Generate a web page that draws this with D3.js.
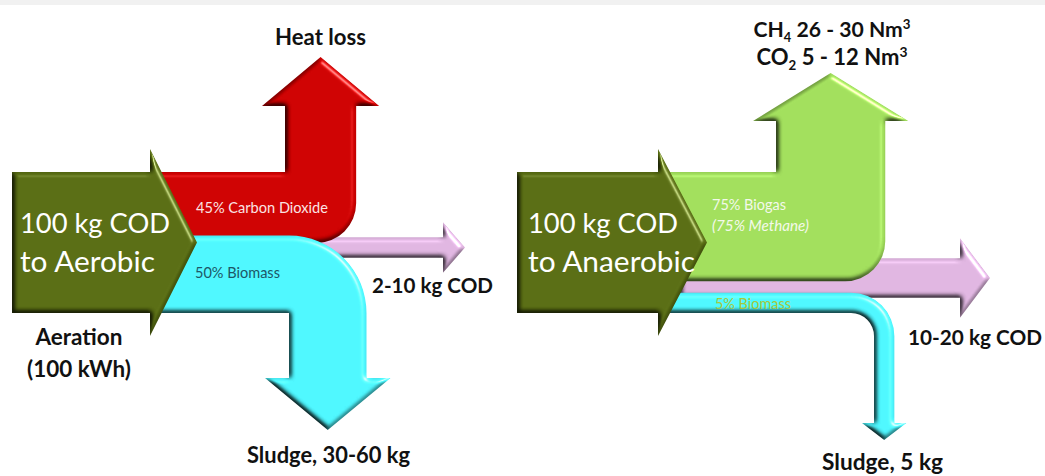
<!DOCTYPE html>
<html>
<head>
<meta charset="utf-8">
<script src="https://cdnjs.cloudflare.com/ajax/libs/d3/7.8.5/d3.min.js"></script>
<style>
  html, body { margin: 0; padding: 0; background: #fff; }
  svg { display: block; }
  text { font-family: Lato, "Open Sans", sans-serif; }
</style>
</head>
<body>
<svg id="chart" width="1045" height="476"></svg>
<script>
// ---- Data -------------------------------------------------------------
// Two treatment routes, each fed with the same COD load
const routes = ["Aerobic", "Anaerobic"];
const inputCOD = [100, 100];            // kg COD entering each route
const inputLines = [["100 kg COD", "to Aerobic"], ["100 kg COD", "to Anaerobic"]];

// Fate of the COD (share of input, %) – order: upward, straight, downward
const aerobicFlows   = ["Carbon Dioxide", "Effluent COD", "Biomass"];
const aerobicShares  = [45, 5, 50];
const aerobicOut     = ["Heat loss", "2-10 kg COD", "Sludge, 30-60 kg"];

const anaerobicFlows  = ["Biogas", "Effluent COD", "Biomass"];
const anaerobicShares = [75, 20, 5];
const anaerobicOut    = [null, "10-20 kg COD", "Sludge, 5 kg"];
// Biogas composition: [gas, subscript, amount, superscript]
const biogasLines = [["CH", "4", " 26 - 30 Nm", "3"], ["CO", "2", " 5 - 12 Nm", "3"]];

const aerationNote = ["Aeration", "(100 kWh)"];

// ---- Styling / layout -----------------------------------------------
const W = 1045, H = 476;
const svg = d3.select("#chart");

const thick = d3.scaleLinear().domain([0, 100]).range([14, 141]);

const srcColor = "#576b12";
const flowColors = [
  ["#cc0000", "#ddb3de", "#4cf4fc"],
  ["#9fdc5a", "#ddb3de", "#4cf4fc"]
];

const layout = [
  { src:   { x0: 12,  x1: 150, top: 172, tip: 197, over: 23 },
    up:    { sx: 285, headBase: 106, over: 23, headLen: 49, r: 40 },
    right: { x0: 300, cy: 247.5, headX: 443, over: 15, headLen: 22 },
    down:  { sx: 289, headBase: 378, over: 24, headLen: 52, ri: 0 } },
  { src:   { x0: 517, x1: 658, top: 172, tip: 707, over: 23 },
    up:    { sx: 776, headBase: 121, over: 23, headLen: 48, r: 40 },
    right: { x0: 680, cy: 278, headX: 960, over: 20, headLen: 30 },
    down:  { sx: 874, headBase: 423, over: 12, headLen: 17, ri: 23 } }
];

// ---- Defs: bevel lighting ------------------------------------------
const defs = svg.append("defs");
const f = defs.append("filter").attr("id", "bevel")
  .attr("x", "-10%").attr("y", "-10%").attr("width", "120%").attr("height", "120%")
  .attr("color-interpolation-filters", "sRGB");
f.append("feGaussianBlur").attr("in", "SourceAlpha").attr("stdDeviation", 2.4).attr("result", "blur");
f.append("feDiffuseLighting").attr("in", "blur").attr("surfaceScale", 4)
  .attr("diffuseConstant", 1.155).attr("lighting-color", "#fff").attr("result", "diff")
  .append("feDistantLight").attr("azimuth", 315).attr("elevation", 60);
f.append("feComposite").attr("in", "SourceGraphic").attr("in2", "diff")
  .attr("operator", "arithmetic").attr("k1", 1).attr("k2", 0).attr("k3", 0).attr("k4", 0)
  .attr("result", "shaded");
f.append("feSpecularLighting").attr("in", "blur").attr("surfaceScale", 4)
  .attr("specularConstant", 0.55).attr("specularExponent", 30)
  .attr("lighting-color", "#fff").attr("result", "spec")
  .append("feDistantLight").attr("azimuth", 315).attr("elevation", 35);
f.append("feComposite").attr("in", "spec").attr("in2", "SourceAlpha")
  .attr("operator", "in").attr("result", "specIn");
f.append("feComposite").attr("in", "shaded").attr("in2", "specIn")
  .attr("operator", "arithmetic").attr("k1", 0).attr("k2", 1).attr("k3", 1).attr("k4", 0);

// ---- Background -----------------------------------------------------
svg.append("rect").attr("width", W).attr("height", H).attr("fill", "#fff");
svg.append("rect").attr("width", W).attr("height", 5).attr("fill", "#f1f1f1");

// ---- Shape builders -------------------------------------------------
function sourcePath(s, t) {
  const p = d3.path();
  const bottom = s.top + t, mid = (s.top + bottom) / 2;
  p.moveTo(s.x0, s.top); p.lineTo(s.x1, s.top); p.lineTo(s.x1, s.top - s.over);
  p.lineTo(s.tip, mid); p.lineTo(s.x1, bottom + s.over); p.lineTo(s.x1, bottom);
  p.lineTo(s.x0, bottom); p.closePath();
  return p.toString();
}
function upPath(x0, top, t, u) {
  const p = d3.path();
  const bottom = top + t, r = Math.min(u.r, t);
  p.moveTo(x0, top); p.lineTo(u.sx, top); p.lineTo(u.sx, u.headBase);
  p.lineTo(u.sx - u.over, u.headBase); p.lineTo(u.sx + t / 2, u.headBase - u.headLen);
  p.lineTo(u.sx + t + u.over, u.headBase); p.lineTo(u.sx + t, u.headBase);
  p.lineTo(u.sx + t, bottom - r);
  p.arc(u.sx + t - r, bottom - r, r, 0, Math.PI / 2, false);
  p.lineTo(x0, bottom); p.closePath();
  return p.toString();
}
function downPath(x0, bottom, t, d) {
  const p = d3.path();
  const top = bottom - t, ri = d.ri, R = t + ri;
  p.moveTo(x0, top); p.lineTo(d.sx + t - R, top);
  p.arc(d.sx + t - R, top + R, R, -Math.PI / 2, 0, false);
  p.lineTo(d.sx + t, d.headBase); p.lineTo(d.sx + t + d.over, d.headBase);
  p.lineTo(d.sx + t / 2, d.headBase + d.headLen);
  p.lineTo(d.sx - d.over, d.headBase); p.lineTo(d.sx, d.headBase);
  if (ri > 0) {
    p.lineTo(d.sx, bottom + ri);
    p.arc(d.sx - ri, bottom + ri, ri, 0, -Math.PI / 2, true);
  } else {
    p.lineTo(d.sx, bottom);
  }
  p.lineTo(x0, bottom); p.closePath();
  return p.toString();
}
function rightPath(t, r) {
  const p = d3.path();
  const y0 = r.cy - t / 2, y1 = r.cy + t / 2;
  p.moveTo(r.x0, y0); p.lineTo(r.headX, y0); p.lineTo(r.headX, y0 - r.over);
  p.lineTo(r.headX + r.headLen, r.cy); p.lineTo(r.headX, y1 + r.over);
  p.lineTo(r.headX, y1); p.lineTo(r.x0, y1); p.closePath();
  return p.toString();
}

// Scale a label's font so that it spans the given width
function fit(sel, width) {
  const node = sel.node();
  const w = node.getComputedTextLength();
  if (w > 0) {
    const fs = parseFloat(sel.attr("font-size"));
    sel.attr("font-size", (fs * width / w).toFixed(2));
    sel.selectAll("tspan[font-size]").each(function () {
      const ts = d3.select(this);
      ts.attr("font-size", (parseFloat(ts.attr("font-size")) * width / w).toFixed(2));
    });
  }
  return sel;
}

// ---- Draw each route ------------------------------------------------
const shares = [aerobicShares, anaerobicShares];
const inputWidths = [[150, 135], [150, 167]];
routes.forEach((route, i) => {
  const L = layout[i];
  const g = svg.append("g").attr("class", "route route-" + route.toLowerCase());
  const tIn = thick(inputCOD[i]);
  const top = L.src.top, bottom = top + tIn;
  const [tUp, tRight, tDown] = shares[i].map(v => thick(v));
  const x0 = L.src.x1 - 12;

  g.append("path").attr("d", rightPath(tRight, L.right))
    .attr("fill", flowColors[i][1]).attr("filter", "url(#bevel)");
  g.append("path").attr("d", upPath(x0, top, tUp, L.up))
    .attr("fill", flowColors[i][0]).attr("filter", "url(#bevel)");
  g.append("path").attr("d", downPath(x0, bottom, tDown, L.down))
    .attr("fill", flowColors[i][2]).attr("filter", "url(#bevel)");
  g.append("path").attr("d", sourcePath(L.src, tIn))
    .attr("fill", srcColor).attr("filter", "url(#bevel)");

  // input label
  inputLines[i].forEach((line, k) => {
    const t = g.append("text")
      .attr("x", L.src.x0 + (i ? 11 : 8))
      .attr("y", 233 + k * 39)
      .attr("fill", "#fff").attr("font-size", 28.5)
      .text(line);
    fit(t, inputWidths[i][k]);
  });
});

// ---- Flow annotations ----------------------------------------------
const lab = svg.append("g").attr("class", "labels");
function put(x, y, txt, width, opts = {}) {
  const t = lab.append("text").attr("x", x).attr("y", y)
    .attr("font-size", opts.size || 21.5)
    .attr("font-weight", opts.weight || 700)
    .attr("font-style", opts.style || null)
    .attr("fill", opts.fill || "#111")
    .attr("text-anchor", opts.anchor || "start")
    .text(txt);
  if (width) fit(t, width);
  return t;
}

// Aerobic route
put(196, 213, `${aerobicShares[0]}% ${aerobicFlows[0]}`, 132, { size: 14.5, weight: 400, fill: "#fbe3e3" });
put(195, 278, `${aerobicShares[2]}% ${aerobicFlows[2]}`, 85, { size: 14.5, weight: 400, fill: "#1d5767" });
put(320.5, 45, aerobicOut[0], 91, { anchor: "middle" });
put(372, 293, aerobicOut[1], 121);
put(328.5, 463, aerobicOut[2], 163, { anchor: "middle" });
put(79, 345, aerationNote[0], 87, { anchor: "middle" });
put(79, 377, aerationNote[1], 104, { anchor: "middle" });

// Anaerobic route
put(712, 210, `${anaerobicShares[0]}% ${anaerobicFlows[0]}`, 74, { size: 14.5, weight: 400, fill: "#f3f9ea" });
put(712, 231, `(${anaerobicShares[0]}% Methane)`, 97, { size: 14.5, weight: 400, style: "italic", fill: "#f3f9ea" });
put(715, 309, `${anaerobicShares[2]}% ${anaerobicFlows[2]}`, 76, { size: 14.5, weight: 400, fill: "#a6c83c" });
put(908, 345, anaerobicOut[1], 134);
put(882.5, 470, anaerobicOut[2], 121, { anchor: "middle" });

const biogasWidths = [157, 151];
biogasLines.forEach((parts, k) => {
  const t = lab.append("text").attr("x", 832).attr("y", 37 + k * 28)
    .attr("font-size", 21.5).attr("font-weight", 700).attr("fill", "#111")
    .attr("text-anchor", "middle");
  t.append("tspan").text(parts[0]);
  t.append("tspan").attr("font-size", 13).attr("dy", 5).text(parts[1]);
  t.append("tspan").attr("dy", -5).text(parts[2]);
  t.append("tspan").attr("font-size", 13.5).attr("dy", -8).text(parts[3]);
  fit(t, biogasWidths[k]);
});
</script>
</body>
</html>
